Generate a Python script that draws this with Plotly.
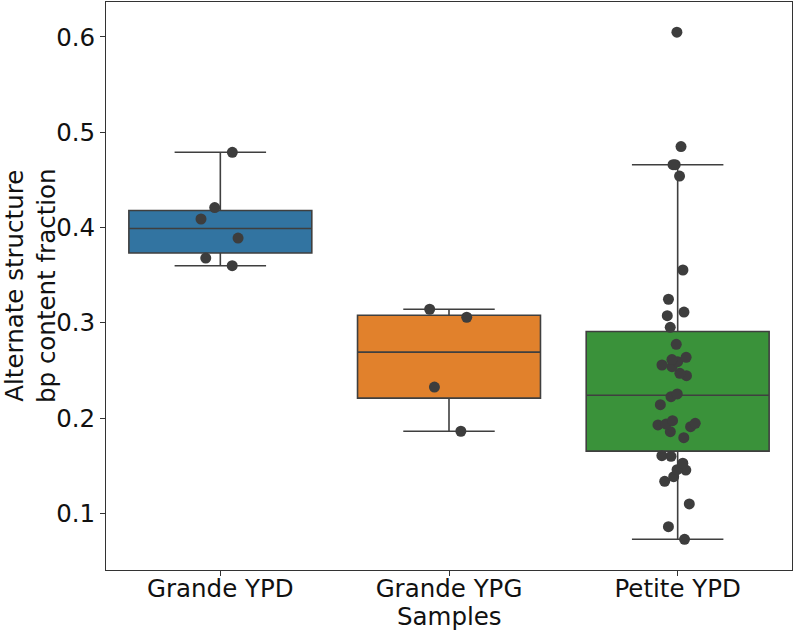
import numpy as np
import plotly.graph_objects as go

# ---- data ----
categories = ["Grande YPD", "Grande YPG", "Petite YPD"]

grande_ypd = [0.479, 0.421, 0.409, 0.389, 0.368, 0.360]
grande_ypg = [0.3143, 0.3059, 0.2327, 0.1863]
petite_ypd = [0.605, 0.485, 0.466, 0.466, 0.454, 0.3555, 0.3248, 0.3114,
              0.3076, 0.2954, 0.2775, 0.2639, 0.2615, 0.2593, 0.2558, 0.2540,
              0.2471, 0.2446, 0.2254, 0.2226, 0.2142, 0.1974, 0.1946, 0.1939,
              0.1929, 0.1911, 0.1858, 0.1795, 0.1607, 0.1600, 0.1527, 0.1460,
              0.1456, 0.1386, 0.1338, 0.1100, 0.0861, 0.0729]

series = [grande_ypd, grande_ypg, petite_ypd]
box_colors = ["#3274a1", "#e1812c", "#3a923a"]

y_title = "Alternate structure<br>bp content fraction"
x_title = "Samples"

# ---- styling ----
FONT = "DejaVu Sans"
EDGE = "#3f3f3f"
DOT = "#3d3d3d"
TXT = "#111111"
FS = 24.5
W, H = 794, 631
ML, MR, MT, MB = 106, 2, 2, 61
y_range = [0.0407, 0.6367]


def box_stats(vals):
    a = np.asarray(vals, dtype=float)
    q1, med, q3 = np.percentile(a, [25, 50, 75])
    iqr = q3 - q1
    hi = a[a <= q3 + 1.5 * iqr].max()
    lo = a[a >= q1 - 1.5 * iqr].min()
    return q1, med, q3, lo, hi


fig = go.Figure()

for cat, vals, col in zip(categories, series, box_colors):
    q1, med, q3, lo, hi = box_stats(vals)
    fig.add_trace(go.Box(
        x=[cat], q1=[q1], median=[med], q3=[q3],
        lowerfence=[lo], upperfence=[hi],
        fillcolor=col, line=dict(color=EDGE, width=1.6),
        whiskerwidth=0.5, width=0.8, boxpoints=False,
        showlegend=False, hoverinfo="skip",
    ))

for cat, vals in zip(categories, series):
    fig.add_trace(go.Box(
        x=[cat] * len(vals), y=vals,
        boxpoints="all", jitter=0.25, pointpos=0, width=0.8,
        fillcolor="rgba(0,0,0,0)",
        line=dict(color="rgba(0,0,0,0)", width=0),
        marker=dict(color=DOT, size=11, line=dict(width=0)),
        showlegend=False, hoverinfo="skip",
    ))

axis_common = dict(
    showline=True, mirror=True, linecolor="#333333", linewidth=1,
    ticks="outside", ticklen=5, tickwidth=1, tickcolor="#333333",
    showgrid=False, zeroline=False,
    tickfont=dict(family=FONT, size=FS, color=TXT),
)

fig.update_layout(
    width=W, height=H,
    margin=dict(l=ML, r=MR, t=MT, b=MB),
    paper_bgcolor="white", plot_bgcolor="white",
    boxmode="overlay",
    font=dict(family=FONT, size=FS, color=TXT),
    xaxis=dict(type="category", categoryorder="array", categoryarray=categories,
               range=[-0.5, 2.5], ticklabelstandoff=-8, **axis_common),
    yaxis=dict(range=y_range, dtick=0.1, tick0=0.1, tickformat=".1f",
               **axis_common),
    annotations=[
        dict(text=y_title, xref="paper", yref="paper",
             x=(30 - ML) / (W - ML - MR), y=0.5, xanchor="center",
             yanchor="middle", textangle=-90, showarrow=False,
             font=dict(family=FONT, size=FS, color=TXT)),
        dict(text=x_title, xref="paper", yref="paper",
             x=0.5, y=(570 - 616) / (H - MT - MB), xanchor="center",
             yanchor="middle", showarrow=False,
             font=dict(family=FONT, size=FS, color=TXT)),
    ],
)

fig.write_html("out.html",
               config={"displayModeBar": False},
               post_script="document.body.style.margin='0';"
                           "document.body.style.padding='0';")
